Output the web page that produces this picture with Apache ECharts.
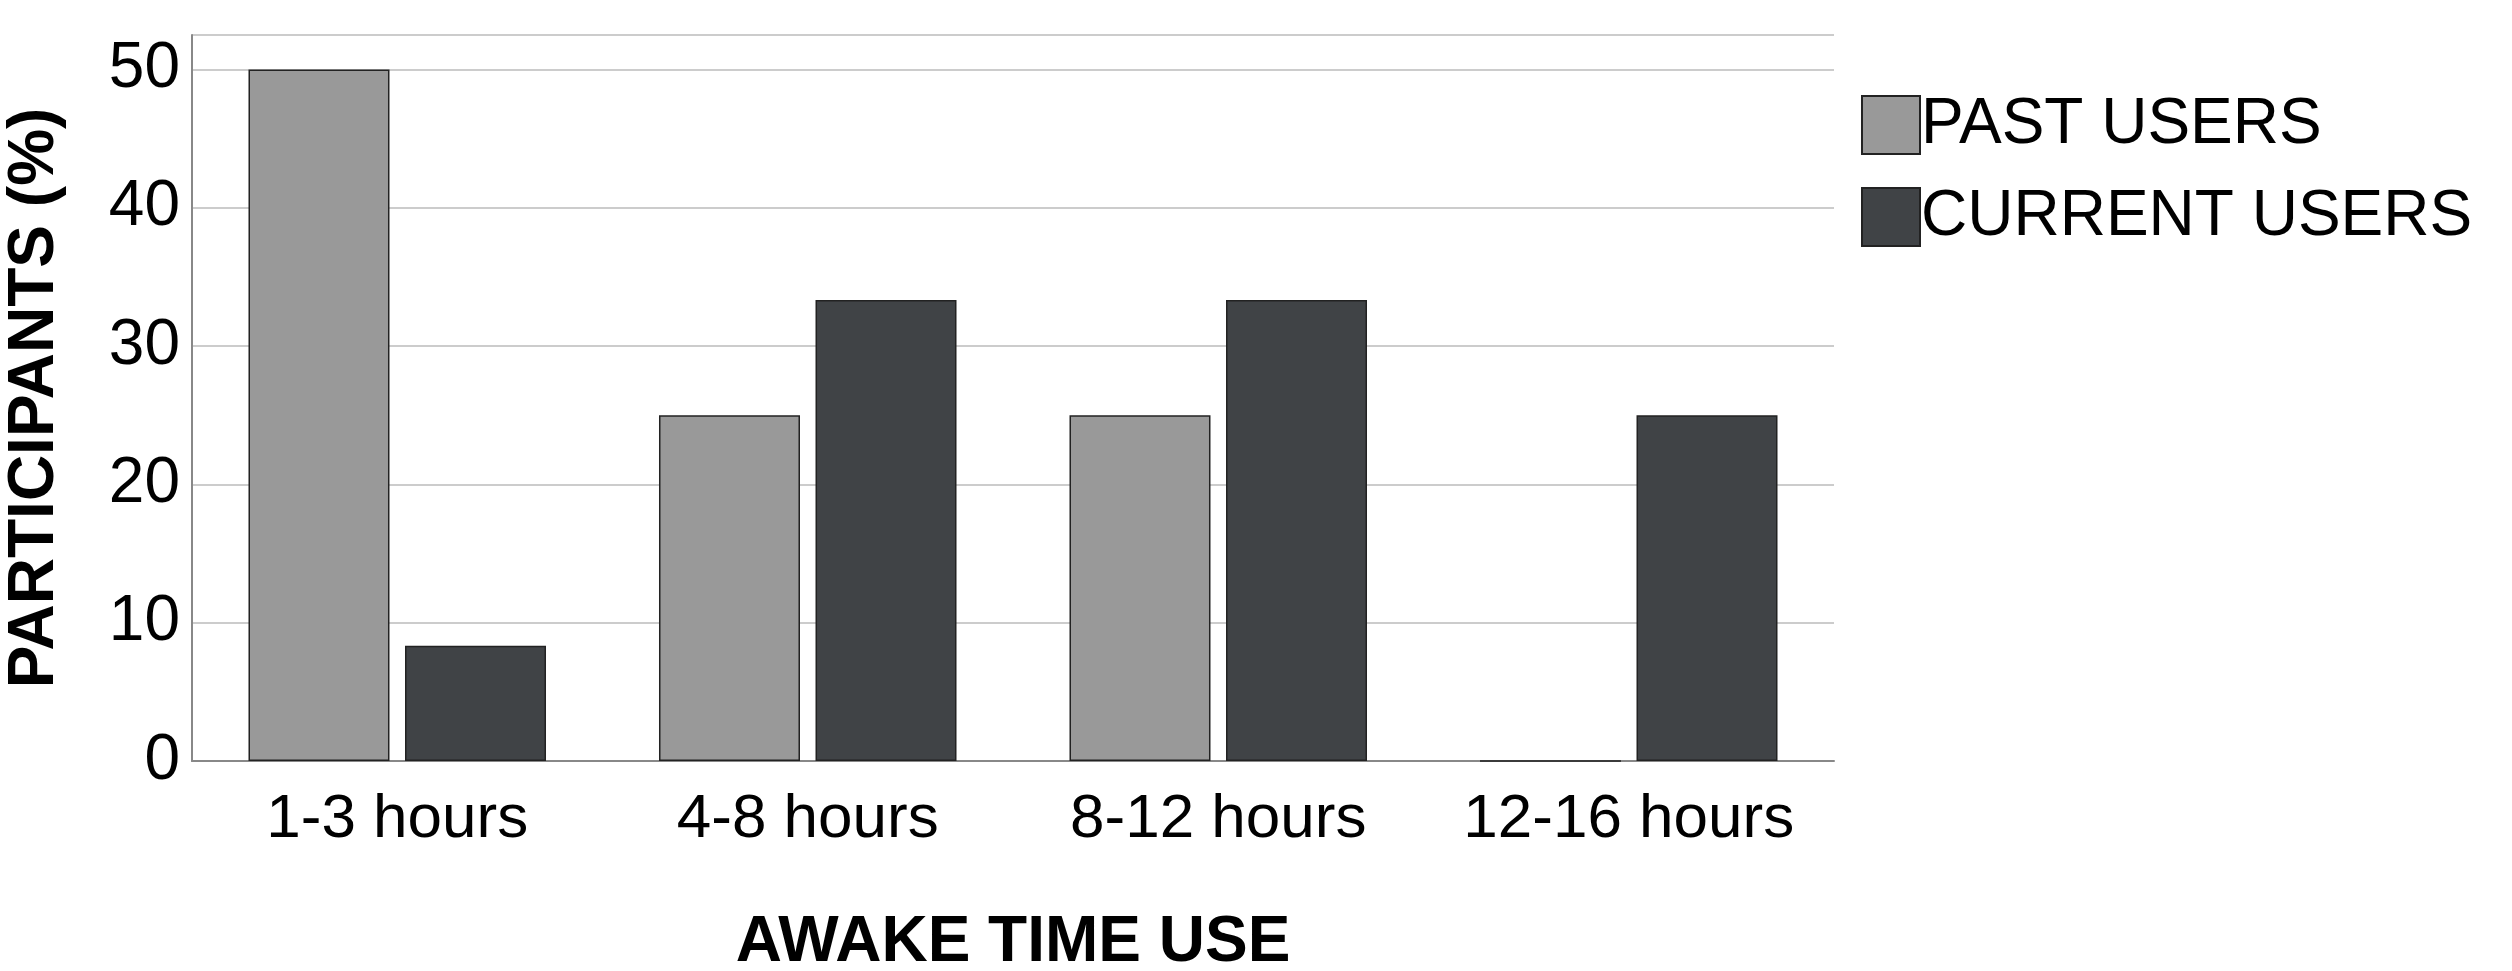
<!DOCTYPE html>
<html>
<head>
    <meta charset="utf-8">
    <title>Awake time use</title>
    <style>
        body { margin: 0; background: #fff; }
        #chart { width: 2512px; height: 971px; }
    </style>
</head>
<body>
<div id="chart"></div>
<script src="https://cdn.jsdelivr.net/npm/echarts@6.0.0/dist/echarts.min.js"></script>
<script>
    var categories = ['1-3 hours', '4-8 hours', '8-12 hours', '12-16 hours'];
    var pastUsers = [50, 25, 25, 0];
    var currentUsers = [8.33, 33.33, 33.33, 25];

    var font = 'Liberation Sans, Arial, sans-serif';
    var chart = echarts.init(document.getElementById('chart'));
    chart.setOption({
        animation: false,
        grid: { left: 192, right: 678, top: 35, bottom: 210, outerBoundsMode: 'none', containLabel: false },
        legend: {
            orient: 'vertical',
            left: 1856,
            top: 88,
            itemWidth: 58,
            itemHeight: 58,
            itemGap: 28,
            icon: 'rect',
            textStyle: { fontSize: 64, color: '#000', fontFamily: font, padding: [0, 0, 0, -4] },
            data: ['PAST USERS', 'CURRENT USERS']
        },
        xAxis: {
            type: 'category',
            data: categories,
            name: 'AWAKE TIME USE',
            nameLocation: 'middle',
            nameGap: 150,
            nameTextStyle: { fontSize: 64, fontWeight: 'bold', color: '#000', fontFamily: font },
            axisLine: { lineStyle: { color: '#888', width: 2 } },
            axisTick: { show: false },
            axisLabel: { interval: 0, fontSize: 62, color: '#000', margin: 28, fontFamily: font }
        },
        yAxis: {
            type: 'value',
            min: 0,
            max: 52.5,
            interval: 10,
            name: 'PARTICIPANTS (%)',
            nameLocation: 'middle',
            nameGap: 125,
            nameTextStyle: { fontSize: 64, fontWeight: 'bold', color: '#000', fontFamily: font },
            axisLine: { show: true, lineStyle: { color: '#888', width: 2 } },
            axisTick: { show: false },
            axisLabel: {
                fontSize: 64, color: '#000', margin: 12, fontFamily: font,
                formatter: function (v) { return v % 10 === 0 ? v : ''; }
            },
            splitLine: { lineStyle: { color: '#ccc', width: 2 } }
        },
        series: [{
            name: 'PAST USERS',
            type: 'bar',
            data: pastUsers,
            barWidth: 141,
            barGap: '11%',
            itemStyle: { color: '#999999', borderColor: '#222', borderWidth: 1.5 }
        }, {
            name: 'CURRENT USERS',
            type: 'bar',
            data: currentUsers,
            barWidth: 141,
            itemStyle: { color: '#404346', borderColor: '#222', borderWidth: 1.5 }
        }]
    });
</script>
</body>
</html>
